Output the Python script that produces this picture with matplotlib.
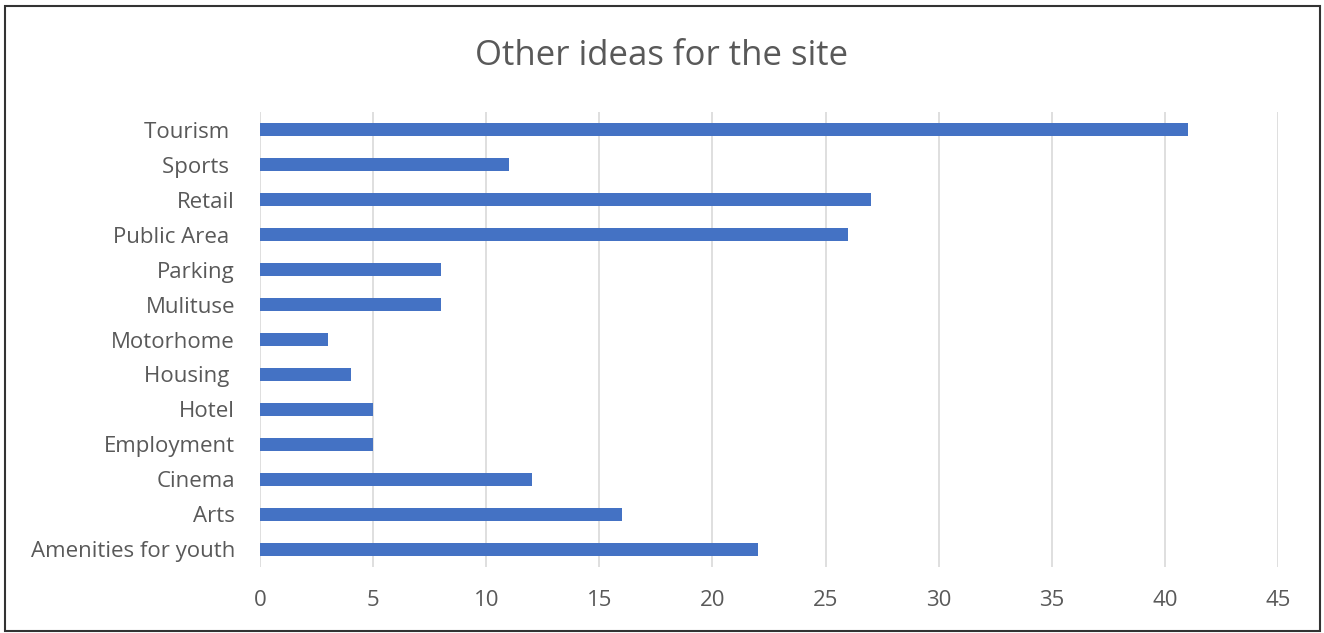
import matplotlib.pyplot as plt
from matplotlib.patches import Rectangle

# Données (de bas en haut)
categories = ['Amenities for youth', 'Arts', 'Cinema', 'Employment', 'Hotel', 'Housing ',
              'Motorhome', 'Mulituse', 'Parking', 'Public Area ', 'Retail', 'Sports ', 'Tourism ']
valeurs = [22, 16, 12, 5, 5, 4, 3, 8, 8, 26, 27, 11, 41]
graduations = [0, 5, 10, 15, 20, 25, 30, 35, 40, 45]

plt.rcParams['font.family'] = ['Open Sans', 'DejaVu Sans']
gris = '#595959'

fig = plt.figure(figsize=(13.24, 6.33), dpi=100)
ax = fig.add_axes([0.1964, 0.105, 0.7689, 0.7173])

ax.barh(range(len(categories)), valeurs, height=0.37, color='#4472C4', zorder=3)

ax.set_xlim(0, 45)
ax.set_ylim(-0.5, len(categories) - 0.5)
ax.set_xticks(graduations)
ax.set_yticks(range(len(categories)))
ax.set_yticklabels(categories)
ax.tick_params(axis='both', length=0, labelsize=16, colors=gris)
ax.tick_params(axis='x', pad=17)
ax.tick_params(axis='y', pad=18)
ax.grid(axis='x', color='#d9d9d9', linewidth=1.2, zorder=0)
for s in ax.spines.values():
    s.set_visible(False)

fig.text(0.5, 0.912, 'Other ideas for the site', ha='center', va='center',
         fontsize=25, color=gris)

# cadre autour de la figure
fig.patches.append(Rectangle((0.004, 0.003), 0.993, 0.988, transform=fig.transFigure,
                             fill=False, edgecolor='#333333', linewidth=1.5))

fig.savefig('out.png', dpi=100)
